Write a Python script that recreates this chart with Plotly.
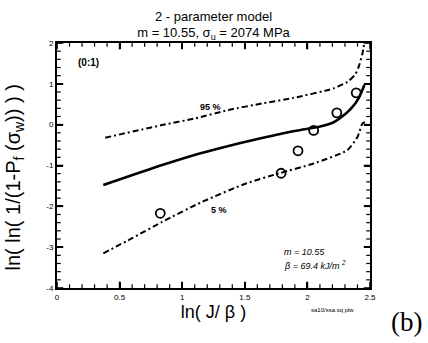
import plotly.graph_objects as go

# Data
pts_x = [0.825, 1.79, 1.925, 2.05, 2.235, 2.39]
pts_y = [-2.17, -1.19, -0.64, -0.14, 0.29, 0.78]

fit_x = [0.37, 0.84, 1.146, 1.37, 1.56, 1.79, 1.947, 2.11, 2.21, 2.27, 2.35, 2.41, 2.455]
fit_y = [-1.48, -0.99, -0.70, -0.52, -0.38, -0.22, -0.13, -0.04, 0.06, 0.18, 0.40, 0.65, 0.97]

up_x = [0.385, 0.84, 1.106, 1.37, 1.64, 1.88, 2.21, 2.32, 2.38, 2.41, 2.44, 2.455]
up_y = [-0.32, -0.01, 0.155, 0.36, 0.52, 0.65, 0.89, 1.05, 1.22, 1.42, 1.75, 2.0]

lo_x = [0.37, 0.6, 0.84, 1.16, 1.51, 1.775, 2.05, 2.32, 2.40, 2.44, 2.46]
lo_y = [-3.15, -2.78, -2.38, -1.89, -1.44, -1.19, -0.95, -0.62, -0.30, 0.03, 0.06]

x_ticks = [0, 0.5, 1, 1.5, 2, 2.5]
x_tick_labels = ["0", "0.5", "1", "1.5", "2", "2.5"]
y_ticks = [-4, -3, -2, -1, 0, 1, 2]
y_tick_labels = ["-4", "-3", "-2", "-1", "0", "1", "2"]
x_minor_step = 0.1
y_minor_step = 0.2

font = "Liberation Sans, Arial, sans-serif"
narrow = "Liberation Sans Narrow, Liberation Sans, Arial, sans-serif"

fig = go.Figure()
fig.add_trace(go.Scatter(x=up_x, y=up_y, mode="lines",
                         line=dict(color="black", width=2, dash="6px,3px,2px,3px", shape="spline", smoothing=0.6)))
fig.add_trace(go.Scatter(x=lo_x, y=lo_y, mode="lines",
                         line=dict(color="black", width=2, dash="6px,3px,2px,3px", shape="spline", smoothing=0.6)))
fig.add_trace(go.Scatter(x=fit_x, y=fit_y, mode="lines",
                         line=dict(color="black", width=2.6, shape="spline", smoothing=0.6)))
fig.add_trace(go.Scatter(x=pts_x, y=pts_y, mode="markers",
                         marker=dict(symbol="circle-open", size=9, color="black", line=dict(width=1.8))))

fig.update_xaxes(range=[x_ticks[0], x_ticks[-1]], tickvals=x_ticks, ticktext=x_tick_labels,
                 ticks="inside", ticklen=6, tickwidth=1.5, tickcolor="black",
                 showline=True, linecolor="black", linewidth=2, mirror="allticks",
                 showgrid=False, zeroline=False,
                 tickfont=dict(family=font, size=8, color="black"),
                 title=dict(text="ln( J/ β )", font=dict(family=narrow, size=18, color="black"), standoff=4))
fig.update_yaxes(range=[y_ticks[0], y_ticks[-1]], tickvals=y_ticks, ticktext=y_tick_labels,
                 ticks="inside", ticklen=6, tickwidth=1.5, tickcolor="black",
                 showline=True, linecolor="black", linewidth=2, mirror="allticks",
                 showgrid=False, zeroline=False,
                 tickfont=dict(family=font, size=8, color="black"))

# Tick marks on all four sides, built from the tick arrays (inside the frame)
def tick_values(ticks, step):
    n = int(round((ticks[-1] - ticks[0]) / step))
    return [round(ticks[0] + i * step, 6) for i in range(n + 1)]

for v in tick_values(x_ticks, x_minor_step):
    major = any(abs(v - t) < 1e-6 for t in x_ticks)
    ln = 0.026 if major else 0.015
    w = 1.6 if major else 1.2
    fig.add_shape(type="line", xref="x", yref="y domain", x0=v, x1=v, y0=0, y1=ln,
                  line=dict(color="black", width=w))
    fig.add_shape(type="line", xref="x", yref="y domain", x0=v, x1=v, y0=1, y1=1 - ln,
                  line=dict(color="black", width=w))
for v in tick_values(y_ticks, y_minor_step):
    major = any(abs(v - t) < 1e-6 for t in y_ticks)
    ln = 0.02 if major else 0.012
    w = 1.6 if major else 1.2
    fig.add_shape(type="line", xref="x domain", yref="y", x0=0, x1=ln, y0=v, y1=v,
                  line=dict(color="black", width=w))
    fig.add_shape(type="line", xref="x domain", yref="y", x0=1, x1=1 - ln, y0=v, y1=v,
                  line=dict(color="black", width=w))

ann = [
    dict(x=0.25, y=1.53, text="<b>(0:1)</b>", font=dict(family=font, size=10)),
    dict(x=1.226, y=0.44, text="<b>95 %</b>", font=dict(family=font, size=9)),
    dict(x=1.29, y=-2.09, text="<b>5 %</b>", font=dict(family=font, size=9)),
    dict(x=1.80, y=-3.12, text="<i>m = 10.55</i>", font=dict(family=font, size=9), xanchor="left"),
    dict(x=1.80, y=-3.44, text="<i>β = 69.4 kJ/m <sup>2</sup></i>", font=dict(family=font, size=9), xanchor="left"),
]
for a in ann:
    a.update(xref="x", yref="y", showarrow=False)
    a["font"]["color"] = "black"
    fig.add_annotation(**a)

# y-axis title
fig.add_annotation(x=-0.135, y=0.45, xref="paper", yref="paper", textangle=-90,
                   text="ln( ln( 1/(1-P<sub>f</sub> (σ<sub>w</sub>)) ) )", showarrow=False,
                   xanchor="center", yanchor="middle",
                   font=dict(family=narrow, size=20, color="black"))
fig.add_annotation(x=0.879, y=-0.09, xref="paper", yref="paper", text="sa10/ssa.sq plw", showarrow=False,
                   xanchor="center", yanchor="middle",
                   font=dict(family=font, size=6, color="black"))
fig.add_annotation(x=1.118, y=-0.14, xref="paper", yref="paper", text="(b)", showarrow=False,
                   xanchor="center", yanchor="middle",
                   font=dict(family="Liberation Serif, Times New Roman, serif", size=27, color="black"))

fig.update_layout(
    width=428, height=343,
    margin=dict(l=57, r=58, t=43, b=55),
    paper_bgcolor="white", plot_bgcolor="white",
    showlegend=False,
    title=dict(text="2 - parameter model<br>m = 10.55, σ<sub>u</sub> = 2074 MPa",
               x=0.5, xanchor="center", xref="paper", yref="container", y=0.94, yanchor="middle",
               font=dict(family=font, size=13, color="black")),
)
fig.write_html("out.html")
